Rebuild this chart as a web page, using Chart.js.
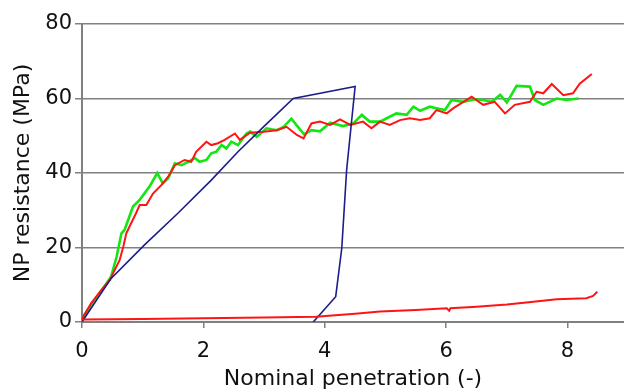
<!DOCTYPE html>
<html>
<head>
<meta charset="utf-8">
<script src="https://cdn.jsdelivr.net/npm/chart.js@4/dist/chart.umd.min.js"></script>
<style>
  html, body { margin: 0; padding: 0; background: #fff; }
  #wrap { width: 624px; height: 390px; position: relative; }
</style>
</head>
<body>
<div id="wrap"><canvas id="npChart"></canvas></div>
<script>
// data
const greenX = [0, 0.15, 0.33, 0.48, 0.57, 0.65, 0.70, 0.76, 0.84, 0.95, 1.11, 1.24, 1.33, 1.42, 1.53, 1.64, 1.75, 1.86, 1.94, 2.05, 2.13, 2.21, 2.30, 2.38, 2.46, 2.57, 2.71, 2.77, 2.88, 3.04, 3.21, 3.32, 3.45, 3.60, 3.66, 3.78, 3.92, 4.09, 4.30, 4.47, 4.61, 4.74, 4.91, 5.07, 5.18, 5.35, 5.46, 5.57, 5.73, 5.84, 5.98, 6.09, 6.28, 6.47, 6.61, 6.75, 6.89, 7.00, 7.16, 7.38, 7.46, 7.60, 7.82, 7.98, 8.18];
const greenY = [1, 4.5, 8.6, 12.2, 17.5, 23.8, 24.7, 27.4, 31, 32.8, 36.3, 40, 37.2, 38.6, 42.6, 42.1, 43, 44, 43, 43.5, 45.3, 45.7, 47.5, 46.6, 48.4, 47.5, 50.6, 51.1, 49.7, 52, 51.5, 52.4, 54.6, 51.5, 50.4, 51.5, 51.2, 53.5, 52.6, 53.3, 55.6, 53.8, 53.8, 55.1, 56, 55.6, 57.8, 56.7, 57.8, 57.4, 56.9, 59.6, 59.1, 59.8, 59.6, 59.1, 61, 58.9, 63.4, 63.2, 59.6, 58.3, 60, 59.6, 60];

const redUpX = [0, 0.02, 0.15, 0.32, 0.46, 0.54, 0.62, 0.68, 0.73, 0.81, 0.89, 0.95, 1.06, 1.17, 1.31, 1.42, 1.53, 1.69, 1.80, 1.88, 2.05, 2.13, 2.24, 2.35, 2.52, 2.60, 2.77, 2.99, 3.21, 3.37, 3.54, 3.65, 3.78, 3.92, 4.09, 4.25, 4.42, 4.63, 4.77, 4.91, 5.07, 5.24, 5.40, 5.57, 5.73, 5.84, 6.01, 6.12, 6.42, 6.61, 6.80, 6.97, 7.13, 7.38, 7.49, 7.60, 7.74, 7.93, 8.09, 8.20, 8.40];
const redUpY = [0.5, 1.4, 5, 8.6, 11.3, 14, 16.6, 20.2, 23.8, 26.5, 29.2, 31.4, 31.4, 34.5, 36.8, 39, 42.1, 43.5, 43, 45.7, 48.4, 47.5, 48, 48.9, 50.6, 48.9, 50.8, 51.1, 51.5, 52.4, 50.2, 49.3, 53.3, 53.8, 52.9, 54.4, 52.9, 53.8, 52, 53.8, 52.9, 54.2, 54.7, 54.2, 54.7, 56.9, 56, 57.4, 60.5, 58.3, 59.1, 56, 58.3, 59.1, 61.8, 61.4, 63.9, 60.9, 61.4, 64, 66.6];

const redLowX = [0, 1, 2, 3, 3.85, 4.5, 4.91, 5.5, 6.01, 6.05, 6.07, 6.5, 7.0, 7.4, 7.82, 8.31, 8.42, 8.49];
const redLowY = [0.7, 0.8, 1.0, 1.2, 1.4, 2.2, 2.8, 3.2, 3.7, 3.0, 3.7, 4.1, 4.7, 5.4, 6.1, 6.4, 7.0, 8.1];

const blueX = [0, 0.04, 0.48, 1.03, 1.58, 2.13, 2.57, 2.99, 3.48, 4.50, 4.36, 4.28, 4.18, 3.81];
const blueY = [0, 1, 11.7, 20.7, 29.2, 38.1, 45.7, 52.4, 60, 63.2, 40.8, 19.8, 6.8, 0];

const xTickValues = [0, 2, 4, 6, 8];
const yTickValues = [0, 20, 40, 60, 80];

function toPoints(xs, ys) {
  return xs.map((x, i) => ({ x: x, y: ys[i] }));
}

function lineSet(xs, ys, color, width) {
  return {
    data: toPoints(xs, ys),
    borderColor: color,
    backgroundColor: color,
    borderWidth: width,
    showLine: true,
    pointRadius: 0,
    tension: 0,
    fill: false
  };
}

const font = 'DejaVu Sans, Arial, sans-serif';

const ctx = document.getElementById('npChart').getContext('2d');
new Chart(ctx, {
  type: 'scatter',
  data: {
    datasets: [
      lineSet(redLowX, redLowY, '#ff1414', 2),
      lineSet(blueX, blueY, '#1c1c8c', 1.6),
      lineSet(redUpX, redUpY, '#ff1414', 2),
      lineSet(greenX, greenY, '#14e614', 2.6)
    ]
  },
  options: {
    responsive: true,
    maintainAspectRatio: false,
    animation: false,
    layout: { padding: { top: 24, right: 0, left: 0, bottom: 0 } },
    plugins: {
      legend: { display: false },
      tooltip: { enabled: false }
    },
    scales: {
      x: {
        type: 'linear',
        min: 0,
        max: 8.93,
        afterBuildTicks: function(scale) {
          scale.ticks = xTickValues.map(v => ({ value: v }));
        },
        afterFit: function(scale) { scale.height = 68; },
        ticks: {
          color: '#111',
          padding: 11,
          font: { family: font, size: 21 },
          maxRotation: 0
        },
        grid: {
          drawOnChartArea: false,
          drawTicks: true,
          tickLength: 6,
          tickColor: '#808080',
          lineWidth: 1.5
        },
        border: { color: '#808080', width: 2 },
        title: {
          display: true,
          text: 'Nominal penetration (-)',
          color: '#111',
          font: { family: font, size: 22 },
          padding: { top: 0, bottom: -2 }
        }
      },
      y: {
        type: 'linear',
        min: 0,
        max: 80,
        afterBuildTicks: function(scale) {
          scale.ticks = yTickValues.map(v => ({ value: v }));
        },
        afterFit: function(scale) { scale.width = 82; },
        ticks: {
          color: '#111',
          padding: 3,
          font: { family: font, size: 21 }
        },
        grid: {
          color: '#808080',
          lineWidth: 1.5,
          tickLength: 7,
          tickColor: '#808080'
        },
        border: { color: '#808080', width: 2 },
        title: {
          display: true,
          text: 'NP resistance (MPa)',
          color: '#111',
          font: { family: font, size: 22 },
          padding: { top: 10, bottom: 0 }
        }
      }
    }
  }
});
</script>
</body>
</html>
